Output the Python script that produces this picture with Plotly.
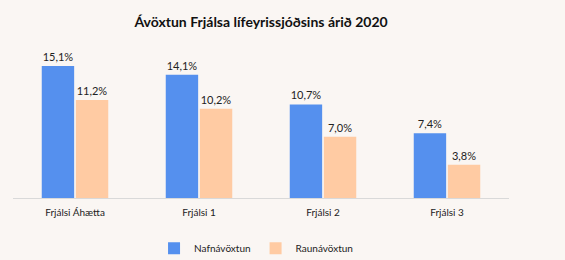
import plotly.graph_objects as go

categories = ["Frjálsi Áhætta", "Frjálsi 1", "Frjálsi 2", "Frjálsi 3"]
nafn = [15.1, 14.1, 10.7, 7.4]
raun = [11.2, 10.2, 7.0, 3.8]

def fmt(v):
    return f"{v:.1f}".replace(".", ",") + "%"

font = "Lato, Open Sans, sans-serif"
fig = go.Figure()
fig.add_trace(go.Bar(x=categories, y=nafn, name="Nafnávöxtun",
                     marker=dict(color="#5590EE", line=dict(width=0)),
                     text=[fmt(v) for v in nafn], textposition="outside",
                     textfont=dict(size=11, color="#222222"), cliponaxis=False))
fig.add_trace(go.Bar(x=categories, y=raun, name="Raunávöxtun",
                     marker=dict(color="#FFCBA3", line=dict(width=0)),
                     text=[fmt(v) for v in raun], textposition="outside",
                     textfont=dict(size=11, color="#222222"), cliponaxis=False))
fig.update_layout(
    width=565, height=260,
    margin=dict(l=13, r=56, t=45, b=62, autoexpand=False),
    paper_bgcolor="#FAF6F3", plot_bgcolor="#FAF6F3",
    font=dict(family=font, size=10, color="#222222"),
    title=dict(text="<b>Ávöxtun Frjálsa lífeyrissjóðsins árið 2020</b>",
               x=0.462, xanchor="center", y=0.915, yanchor="middle",
               font=dict(size=14, color="#111111", family=font)),
    barmode="group", bargap=0.45, bargroupgap=0.05,
    showlegend=True,
    legend=dict(orientation="h", x=0.49, xanchor="center",
                yref="container", y=0.045, yanchor="middle",
                font=dict(size=10), itemwidth=30, bgcolor="rgba(0,0,0,0)"),
    xaxis=dict(showline=True, linecolor="#D9D9D9", linewidth=1,
               ticks="outside", ticklen=5, tickcolor="rgba(0,0,0,0)",
               tickfont=dict(size=10, color="#222222")),
    yaxis=dict(range=[0, 17.5], visible=False, showgrid=False, zeroline=False),
)
fig.write_html("out.html")
